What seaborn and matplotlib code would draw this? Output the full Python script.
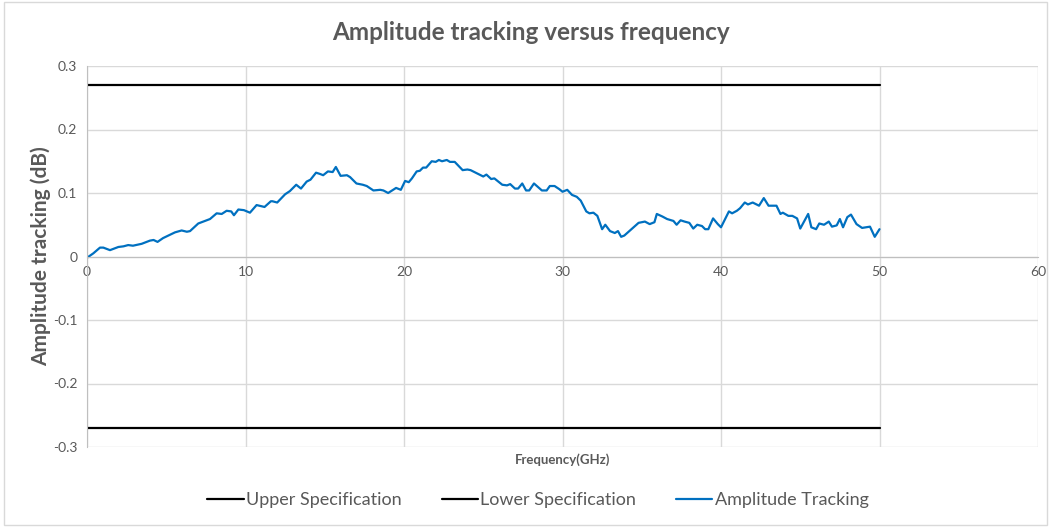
import matplotlib
matplotlib.use("Agg")
import matplotlib.pyplot as plt
import seaborn as sns
from matplotlib.patches import Rectangle

# amplitude tracking (GHz, dB)
freq = [0, 0.4, 0.82, 1.03, 1.45, 1.98, 2.3, 2.6, 2.9, 3.45, 3.97, 4.2, 4.45, 4.8,
        5.55, 5.97, 6.3, 6.5, 7.02, 7.44, 7.76, 8.18, 8.5, 8.81, 9.1, 9.27, 9.55,
        9.9, 10.28, 10.7, 11.2, 11.6, 11.7, 12.0, 12.5, 12.8, 13.2, 13.5, 13.86,
        14.1, 14.45, 14.7, 14.9, 15.2, 15.5, 15.7, 16.0, 16.4, 16.6, 17.0, 17.4,
        17.65, 18.07, 18.5, 18.7, 19.0, 19.5, 19.8, 20.07, 20.3, 20.5, 20.8, 21.0,
        21.2, 21.4, 21.75, 22.0, 22.2, 22.4, 22.7, 22.9, 23.2, 23.7, 24.0, 24.2,
        24.6, 25.0, 25.2, 25.5, 25.7, 26.2, 26.5, 26.7, 27.0, 27.2, 27.46, 27.7,
        27.9, 28.2, 28.7, 29.0, 29.2, 29.5, 29.8, 30.0, 30.3, 30.6, 30.9, 31.15,
        31.5, 31.7, 31.95, 32.2, 32.5, 32.7, 33.0, 33.3, 33.5, 33.7, 33.9, 34.4,
        34.8, 35.2, 35.5, 35.8, 35.95, 36.3, 36.6, 37.0, 37.2, 37.45, 37.7, 38.0,
        38.25, 38.5, 38.8, 39.0, 39.2, 39.5, 39.8, 40.0, 40.5, 40.7, 41.0, 41.2,
        41.5, 41.7, 42.0, 42.4, 42.7, 43.0, 43.5, 43.75, 43.9, 44.25, 44.5, 44.8,
        45.0, 45.5, 45.7, 46.0, 46.2, 46.5, 46.8, 47.0, 47.3, 47.5, 47.7, 47.97,
        48.2, 48.55, 48.9, 49.4, 49.7, 50.0]
amp = [-0.002, 0.005, 0.014, 0.014, 0.010, 0.015, 0.016, 0.018, 0.017, 0.020,
       0.025, 0.026, 0.023, 0.029, 0.038, 0.041, 0.039, 0.040, 0.052, 0.056,
       0.059, 0.068, 0.067, 0.072, 0.071, 0.065, 0.074, 0.073, 0.069, 0.081,
       0.078, 0.087, 0.087, 0.085, 0.098, 0.103, 0.113, 0.107, 0.118, 0.121,
       0.132, 0.130, 0.128, 0.134, 0.133, 0.141, 0.127, 0.128, 0.125, 0.115,
       0.113, 0.111, 0.104, 0.105, 0.104, 0.100, 0.108, 0.105, 0.119, 0.117,
       0.123, 0.134, 0.135, 0.140, 0.140, 0.150, 0.149, 0.152, 0.150, 0.152,
       0.149, 0.149, 0.136, 0.137, 0.136, 0.131, 0.126, 0.129, 0.122, 0.123,
       0.113, 0.112, 0.114, 0.107, 0.107, 0.115, 0.104, 0.104, 0.115, 0.104,
       0.104, 0.111, 0.111, 0.106, 0.102, 0.105, 0.097, 0.094, 0.088, 0.071,
       0.068, 0.069, 0.064, 0.043, 0.050, 0.040, 0.037, 0.040, 0.031, 0.033,
       0.044, 0.053, 0.055, 0.051, 0.054, 0.067, 0.063, 0.059, 0.056, 0.050,
       0.057, 0.055, 0.053, 0.044, 0.050, 0.048, 0.043, 0.043, 0.060, 0.051,
       0.046, 0.071, 0.068, 0.072, 0.076, 0.085, 0.082, 0.085, 0.080, 0.092,
       0.080, 0.080, 0.067, 0.069, 0.064, 0.064, 0.060, 0.044, 0.067, 0.046,
       0.043, 0.052, 0.050, 0.055, 0.047, 0.049, 0.059, 0.046, 0.062, 0.066,
       0.051, 0.045, 0.047, 0.031, 0.043]

spec_freq = [0, 50]
upper_spec = [0.27, 0.27]
lower_spec = [-0.27, -0.27]

x_ticks = [0, 10, 20, 30, 40, 50, 60]
y_ticks = [-0.3, -0.2, -0.1, 0, 0.1, 0.2, 0.3]
y_tick_labels = ["-0.3", "-0.2", "-0.1", "0", "0.1", "0.2", "0.3"]

sns.set_style("white")
plt.rcParams["font.family"] = ["Lato", "DejaVu Sans"]

text_grey = "#595959"
grid_grey = "#d9d9d9"

fig = plt.figure(figsize=(10.51, 5.27), dpi=100)
ax = fig.add_axes([87 / 1051, 1 - 447 / 527, (1038 - 87) / 1051, (447 - 66) / 527])

sns.lineplot(x=spec_freq, y=upper_spec, ax=ax, color="black", linewidth=1.6,
             label="Upper Specification")
sns.lineplot(x=spec_freq, y=lower_spec, ax=ax, color="black", linewidth=1.6,
             label="Lower Specification")
sns.lineplot(x=freq, y=amp, ax=ax, color="#0070C0", linewidth=1.6,
             label="Amplitude Tracking")

ax.set_xlim(0, 60)
ax.set_ylim(-0.3, 0.3)
ax.set_xticks(x_ticks)
ax.set_yticks(y_ticks)
ax.set_yticklabels(y_tick_labels)
ax.grid(True, color=grid_grey, linewidth=1)
ax.set_axisbelow(True)

for side in ["top", "right"]:
    ax.spines[side].set_visible(False)
ax.spines["bottom"].set_position(("data", 0))
ax.spines["bottom"].set_color("#bfbfbf")
ax.spines["left"].set_color("#bfbfbf")
ax.tick_params(length=0, labelsize=10, colors=text_grey, pad=7)

ax.set_xlabel("")
ax.set_ylabel("Amplitude tracking (dB)", fontsize=15, fontweight="bold",
              color=text_grey, labelpad=1)
fig.text(0.5355, 1 - 460 / 527, "Frequency(GHz)", fontsize=9.5, fontweight="bold",
         color=text_grey, ha="center", va="center")
fig.suptitle("Amplitude tracking versus frequency", x=0.505, y=1 - 33 / 527,
             fontsize=17.5, fontweight="bold", color=text_grey, va="center")

ax.legend(loc="center", bbox_to_anchor=(0.512, 1 - 500 / 527), bbox_transform=fig.transFigure,
          ncol=3, frameon=False, fontsize=13, handlelength=2.0, handletextpad=0.15,
          columnspacing=2.2, labelcolor=text_grey)

fig.patches.append(Rectangle((0.004, 0.004), 0.992, 0.992, transform=fig.transFigure,
                             fill=False, edgecolor="#d9d9d9", linewidth=1))

fig.savefig("out.png", dpi=100)
